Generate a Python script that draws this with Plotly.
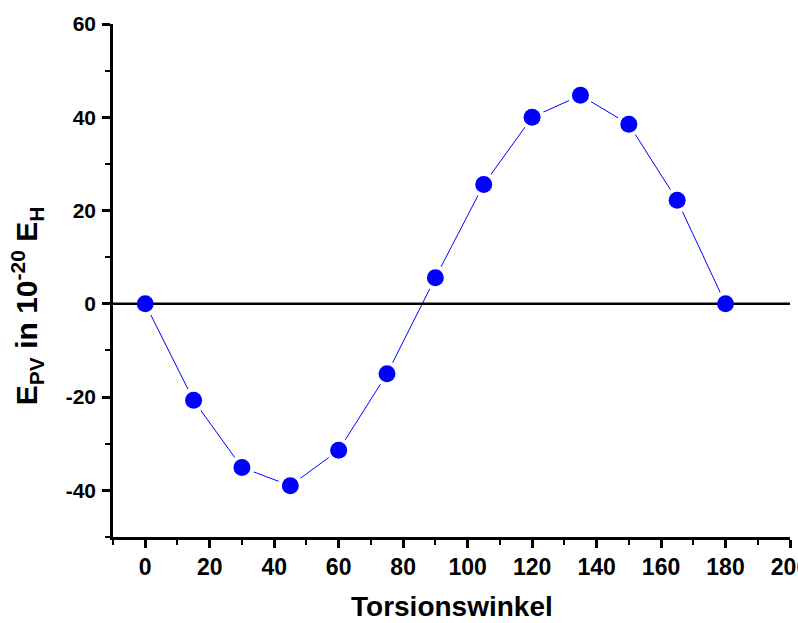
import plotly.graph_objects as go

angles = [0, 15, 30, 45, 60, 75, 90, 105, 120, 135, 150, 165, 180]
epv = [0, -20.7, -35.1, -39.0, -31.4, -15.0, 5.6, 25.6, 40.0, 44.7, 38.5, 22.2, 0]

x_range = [-10, 200]
y_range = [-50, 60]
x_ticks = list(range(0, 201, 20))
y_ticks = list(range(-40, 61, 20))

font_family = "Liberation Sans, Arial, sans-serif"

fig = go.Figure()
# connecting line with white halo around markers (gap effect)
fig.add_trace(go.Scatter(
    x=angles, y=epv, mode="lines+markers",
    line=dict(color="#0000ff", width=1),
    marker=dict(size=25, color="white"),
    hoverinfo="skip", showlegend=False,
))
# zero reference line
fig.add_trace(go.Scatter(
    x=x_range, y=[0, 0], mode="lines",
    line=dict(color="black", width=2.5),
    hoverinfo="skip", showlegend=False,
))
# data points
fig.add_trace(go.Scatter(
    x=angles, y=epv, mode="markers",
    marker=dict(size=17, color="#0000ff"),
    showlegend=False,
))

axis_common = dict(
    showline=True, linecolor="black", linewidth=2.5, mirror=False,
    showgrid=False, zeroline=False, automargin=False,
    ticks="outside", ticklen=8, tickwidth=2.5, tickcolor="black",
    ticklabeloverflow="allow",
)

fig.update_xaxes(
    range=x_range, tickvals=x_ticks, ticktext=[str(v) for v in x_ticks],
    tickfont=dict(family=font_family, size=23, color="black", weight="bold"),
    minor=dict(ticks="outside", ticklen=5, tickwidth=2, tickcolor="black", dtick=10, tick0=0),
    ticklabelstandoff=0,
    **axis_common,
)
fig.update_yaxes(
    range=y_range, tickvals=y_ticks, ticktext=[str(v) for v in y_ticks],
    tickfont=dict(family=font_family, size=21, color="black", weight="bold"),
    minor=dict(ticks="outside", ticklen=5, tickwidth=2, tickcolor="black", dtick=10, tick0=0),
    ticklabelstandoff=2,
    **axis_common,
)

fig.add_annotation(
    text="<b>Torsionswinkel</b>", xref="paper", yref="paper",
    x=0.5, y=-0.135, xanchor="center", yanchor="middle", showarrow=False,
    font=dict(family=font_family, size=28, color="black"),
)
fig.add_annotation(
    text="<b>E<sub>PV</sub> in 10<sup>-20</sup> E<sub>H</sub></b>", xref="paper", yref="paper",
    x=-0.127, y=0.45, xanchor="center", yanchor="middle", textangle=-90, showarrow=False,
    font=dict(family=font_family, size=30, color="black"),
)

fig.update_layout(
    width=798, height=623,
    margin=dict(l=113, r=8, t=24, b=86),
    plot_bgcolor="white", paper_bgcolor="white",
    showlegend=False,
)

fig.write_html("out.html")
